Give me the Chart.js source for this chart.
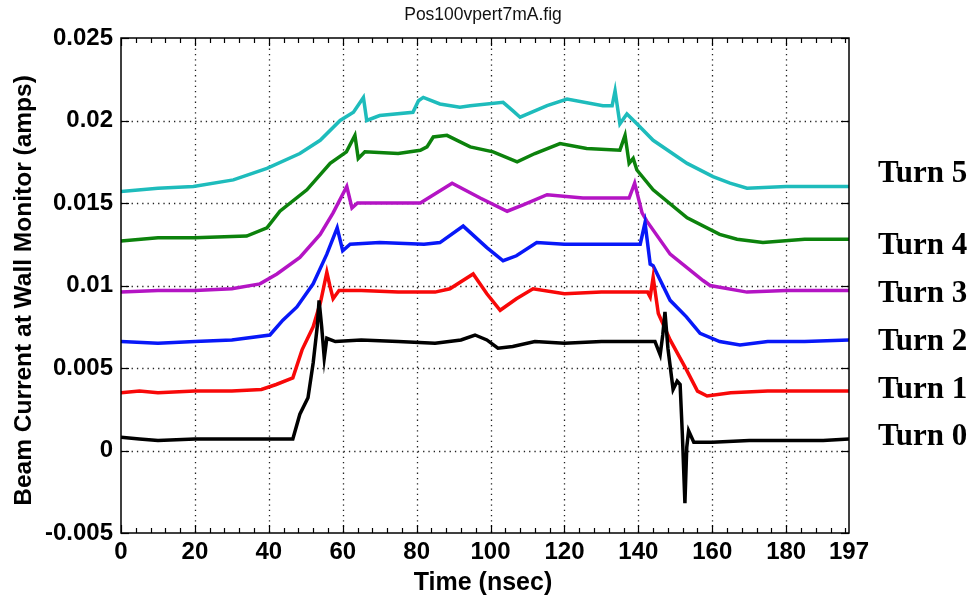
<!DOCTYPE html>
<html>
<head>
<meta charset="utf-8">
<script src="https://cdn.jsdelivr.net/npm/chart.js@4.4.0/dist/chart.umd.min.js"></script>
<style>
  html, body { margin: 0; padding: 0; background: #fff; }
  #grafico { display: block; }
</style>
</head>
<body>
<canvas id="grafico" width="979" height="598"></canvas>
<script>
// ---- Datos: [tiempo (ns), corriente (A)] ----
const turn0 = [[0,.0008],[5,.0007],[10,.0006],[20,.0007],[30,.0007],[40,.0007],[46.5,.0007],[48.4,.0022],[50.6,.0032],
  [52,.0053],[53.1,.0075],[53.6,.0091],[54.3,.0075],[55,.0056],[55.7,.0068],[58,.0066],[65,.0067],[75,.0066],[85,.0065],
  [92,.0067],[95.8,.0070],[99,.0067],[102,.0062],[106,.0063],[112,.0066],[120,.0065],[130,.0066],[140,.0066],[144.5,.0066],
  [145.9,.0058],[146.6,.0070],[147.2,.0084],[148,.0062],[149.4,.0037],[150.5,.0042],[151.3,.0040],[151.9,.0010],[152.6,-.0032],
  [153.1,.0002],[153.6,.0012],[155,.0005],[160,.0005],[170,.0006],[180,.0006],[190,.0006],[197,.0007]];
const turn1 = [[0,.0035],[5,.0036],[10,.0035],[20,.0036],[30,.0036],[38,.0037],[42,.0040],[46.5,.0044],[49,.0061],[52,.0075],
  [54,.0090],[55.7,.0108],[56.5,.0100],[57.4,.0092],[59,.0097],[65,.0097],[75,.0096],[85,.0096],[89,.0098],[95.3,.0107],
  [99,.0095],[102.6,.0085],[107,.0092],[111.5,.0098],[120,.0095],[130,.0096],[142.5,.0096],[143.2,.0093],[144,.0105],
  [145.4,.0083],[148.6,.0067],[153,.0049],[156,.0036],[158.6,.0033],[165,.0035],[175,.0036],[185,.0036],[197,.0036]];
const turn2 = [[0,.0066],[10,.0065],[20,.0066],[30,.0067],[40.3,.0070],[43.8,.0079],[47.6,.0087],[52,.0101],[55.7,.0119],
  [58.5,.0135],[60,.0121],[62,.0125],[70,.0126],[82,.0125],[86.3,.0126],[92.6,.0136],[99,.0123],[103.4,.0115],[107,.0118],
  [112.5,.0126],[120,.0125],[130,.0125],[140.5,.0125],[141.8,.0138],[143.2,.0113],[144,.0112],[148.6,.0091],[153,.0081],
  [156.7,.0071],[162,.0066],[167.5,.0064],[175,.0066],[185,.0066],[197,.0067]];
const turn3 = [[0,.0096],[10,.0097],[20,.0097],[30,.0098],[37.6,.0101],[42.2,.0107],[48.4,.0117],[53.9,.0131],[57.4,.0144],
  [61.1,.0160],[62.5,.0147],[64,.0150],[72,.0150],[81,.0150],[89.6,.0162],[97.2,.0153],[104.5,.0145],[109,.0149],[115.3,.0155],
  [125,.0153],[137.5,.0153],[139,.0162],[141,.0144],[142.3,.0139],[148.6,.0119],[157.5,.0103],[159.4,.0100],[169.4,.0096],
  [180,.0097],[190,.0097],[197,.0097]];
const turn4 = [[0,.0127],[10,.0129],[20,.0129],[34,.0130],[39.5,.0135],[43,.0145],[50.3,.0158],[56.6,.0174],[61,.0181],
  [63.3,.0191],[64.2,.0177],[66,.0181],[75,.0180],[81,.0182],[82.8,.0184],[84.5,.0190],[88.2,.0191],[94.5,.0184],[100.7,.0181],
  [107.2,.0175],[112,.0180],[118.8,.0186],[126,.0183],[135,.0182],[136.4,.0191],[137.5,.0174],[138.6,.0177],[139.6,.0170],
  [144,.0158],[153.2,.0141],[162,.0131],[166.7,.0128],[173.7,.0126],[185,.0128],[197,.0128]];
const turn5 = [[0,.0157],[10,.0159],[19.6,.0160],[30.4,.0164],[39.5,.0171],[48.4,.0180],[53.9,.0188],[59.3,.0200],[62.9,.0205],
  [65.6,.0214],[66.5,.0200],[70,.0203],[79,.0205],[80.5,.0212],[81.8,.0214],[86.3,.0210],[91.7,.0208],[94.5,.0209],[103.4,.0211],
  [106,.0206],[108,.0202],[115.3,.0209],[120.7,.0213],[130.4,.0209],[132.9,.0209],[133.7,.0218],[135,.0198],[136.9,.0204],
  [139.6,.0198],[144,.0188],[153.2,.0174],[160.2,.0166],[164.8,.0162],[169.4,.0159],[180,.0160],[197,.0160]];

const series = [turn0, turn1, turn2, turn3, turn4, turn5];
const turnNames = ['Turn 0', 'Turn 1', 'Turn 2', 'Turn 3', 'Turn 4', 'Turn 5'];
const xTicks = [0, 20, 40, 60, 80, 100, 120, 140, 160, 180, 197];
const yTicks = [-0.005, 0, 0.005, 0.01, 0.015, 0.02, 0.025];
const xMinorStep = 4;

const colores = ['#000000', '#f80808', '#0818f8', '#b414c4', '#0c820c', '#1ebcbc'];
const fuente = "'Liberation Sans', Arial, sans-serif";
const fuenteSerif = "'Liberation Serif', 'Times New Roman', serif";

// ---- Marco estilo MATLAB: rejilla punteada, caja y marcas hacia dentro ----
const marcoMatlab = {
    id: 'marcoMatlab',
    beforeDatasetsDraw(chart) {
        const { ctx, chartArea: a, scales: { x, y } } = chart;
        ctx.save();
        ctx.strokeStyle = '#222';
        ctx.lineWidth = 1.3;
        ctx.setLineDash([1.3, 4]);
        xTicks.slice(1, -1).forEach(v => {
            const px = Math.round(x.getPixelForValue(v)) + 0.5;
            ctx.beginPath(); ctx.moveTo(px, a.top); ctx.lineTo(px, a.bottom); ctx.stroke();
        });
        yTicks.slice(1, -1).forEach(v => {
            const py = Math.round(y.getPixelForValue(v)) + 0.5;
            ctx.beginPath(); ctx.moveTo(a.left, py); ctx.lineTo(a.right, py); ctx.stroke();
        });
        ctx.restore();
    },
    afterDatasetsDraw(chart) {
        const { ctx, chartArea: a, scales: { x, y } } = chart;
        ctx.save();
        ctx.strokeStyle = '#000';
        ctx.lineWidth = 1.5;
        ctx.strokeRect(a.left, a.top, a.right - a.left, a.bottom - a.top);
        ctx.lineWidth = 1.2;
        const marca = (x1, y1, x2, y2) => { ctx.beginPath(); ctx.moveTo(x1, y1); ctx.lineTo(x2, y2); ctx.stroke(); };
        for (let v = 0; v <= 197; v += xMinorStep) {
            const px = Math.round(x.getPixelForValue(v)) + 0.5;
            const len = v % 20 === 0 ? 8 : 5;
            marca(px, a.bottom, px, a.bottom - len);
            marca(px, a.top, px, a.top + len);
        }
        yTicks.forEach(v => {
            const py = Math.round(y.getPixelForValue(v)) + 0.5;
            marca(a.left, py, a.left + 8, py);
            marca(a.right, py, a.right - 8, py);
        });
        ctx.restore();
    },
    afterDraw(chart) {
        const { ctx, chartArea: a } = chart;
        ctx.save();
        ctx.fillStyle = '#111';
        ctx.textAlign = 'center';
        ctx.textBaseline = 'alphabetic';
        ctx.font = '17.5px ' + fuente;
        ctx.fillText('Pos100vpert7mA.fig', 483, 20);

        ctx.fillStyle = '#000';
        ctx.font = 'bold 25px ' + fuente;
        ctx.fillText('Time (nsec)', 483, 590);

        ctx.save();
        ctx.translate(31, (a.top + a.bottom) / 2 + 5);
        ctx.rotate(-Math.PI / 2);
        ctx.font = 'bold 24.5px ' + fuente;
        ctx.fillText('Beam Current at Wall Monitor (amps)', 0, 0);
        ctx.restore();

        // Etiquetas de vuelta a la derecha
        const baseY = [445, 398, 350, 302, 254, 182];
        ctx.textAlign = 'left';
        ctx.font = 'bold 31px ' + fuenteSerif;
        turnNames.forEach((t, i) => ctx.fillText(t, 878, baseY[i]));
        ctx.restore();
    }
};

const ctx = document.getElementById('grafico').getContext('2d');
const grafico = new Chart(ctx, {
    type: 'line',
    data: {
        datasets: series.map((s, i) => ({
            label: turnNames[i],
            data: s.map(p => ({ x: p[0], y: p[1] })),
            borderColor: colores[i],
            borderWidth: 3.5,
            pointRadius: 0,
            tension: 0,
            fill: false
        }))
    },
    options: {
        responsive: false,
        animation: false,
        devicePixelRatio: 1,
        layout: { padding: { left: 0, top: 38, right: 130, bottom: 0 } },
        plugins: { legend: { display: false }, tooltip: { enabled: false } },
        scales: {
            x: {
                type: 'linear',
                min: 0,
                max: 197,
                afterBuildTicks: s => { s.ticks = xTicks.map(v => ({ value: v })); },
                afterFit: s => { s.height = 65; },
                grid: { display: false, drawTicks: false },
                border: { display: false },
                ticks: {
                    padding: 5,
                    color: '#000',
                    font: { family: fuente, size: 24, weight: 'bold' },
                    maxRotation: 0,
                    autoSkip: false,
                    callback: v => String(v)
                }
            },
            y: {
                type: 'linear',
                min: -0.005,
                max: 0.025,
                afterBuildTicks: s => { s.ticks = yTicks.map(v => ({ value: v })); },
                afterFit: s => { s.width = 121; },
                grid: { display: false, drawTicks: false },
                border: { display: false },
                ticks: {
                    padding: 8,
                    color: '#000',
                    font: { family: fuente, size: 24, weight: 'bold' },
                    autoSkip: false,
                    callback: v => String(parseFloat(v.toFixed(3)))
                }
            }
        }
    },
    plugins: [marcoMatlab]
});
</script>
</body>
</html>
